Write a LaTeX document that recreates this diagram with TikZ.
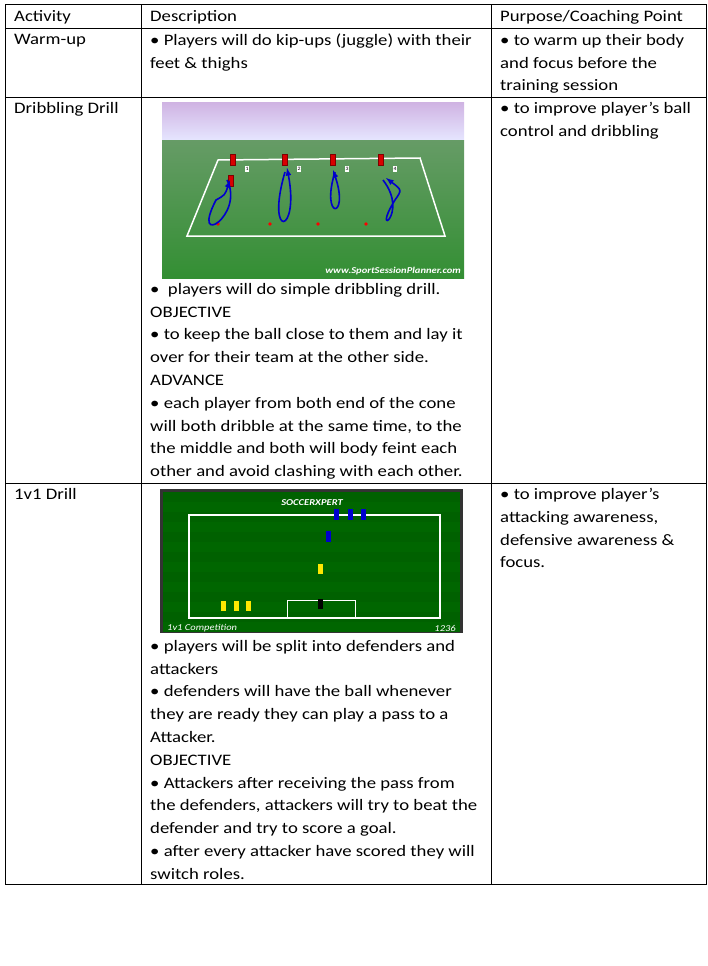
\documentclass[tikz,border=0pt]{standalone}
\usepackage{fontspec}
\setmainfont{Carlito}[FakeStretch=1.17]
\usetikzlibrary{positioning}
\tikzset{cell/.style={anchor=north west,align=left,inner sep=0pt,
  font=\fontsize{16}{22.8}\selectfont},
  rule/.style={line width=1pt},
  redp/.style={fill=red!85!black,draw=red!50!black,minimum width=5,minimum height=11,inner sep=0pt},
  bluep/.style={fill=blue!80!black,minimum width=5,minimum height=11,inner sep=0pt},
  yelp/.style={fill=yellow!90!orange,minimum width=5,minimum height=10,inner sep=0pt},
  path/.style={draw=blue!80!black,line width=1.6pt}}
\begin{document}
\begin{tikzpicture}[x=1pt,y=-1pt]
\useasboundingbox (0,0) rectangle (708,966);
% table frame
\draw[rule] (5,5) rectangle (706,884);
\foreach \y in {29,97,483} \draw[rule] (5,\y) -- (706,\y);
\foreach \x in {141,491} \draw[rule] (\x,5) -- (\x,884);
% header
\node[cell] (hact) at (14,10) {Activity};
\node[cell] (hdesc) at (150,10) {Description};
\node[cell] (hpur) at (500,10) {Purpose/Coaching Point};
% warm-up
\node[cell] (wact) at (14,34) {Warm-up};
\node[cell] (wdesc) at (150,34) {• Players will do kip-ups (juggle) with their\\feet \& thighs};
\node[cell] (wpur) at (500,34) {• to warm up their body\\and focus before the\\training session};
% dribbling
\node[cell] (dact) at (14,102) {Dribbling Drill};
\node[cell] (dpur) at (500,102) {• to improve player’s ball\\control and dribbling};
\shade[top color=blue!25!violet!30,bottom color=blue!10!white] (162,102) rectangle (464,140);
\shade[top color=green!35!black!60,bottom color=green!45!black!80] (162,140) rectangle (464,278);
\draw[white,line width=1.5pt] (218,160) -- (420,158) -- (445,236) -- (187,236) -- cycle;
\foreach \x/\n in {233/1,285/2,333/3,381/4}{
  \node[redp] (p\n) at (\x,160) {};
  \node[fill=white,font=\tiny,inner sep=1pt] (n\n) at (\x+14,169) {\n};
  \node[fill=red,circle,inner sep=1.3pt] (c\n) at (\x-15,224) {};}
\node[redp] (p5) at (231,181) {};
\draw[path,-latex] (227,180) .. controls (245,215) and (190,250) .. (216,200) .. controls (225,195) .. (230,180);
\draw[path,-latex] (285,172) .. controls (265,240) and (300,235) .. (287,168);
\draw[path,-latex] (335,172) .. controls (320,220) and (350,220) .. (333,170);
\draw[path,-latex] (383,180) .. controls (410,215) and (370,240) .. (395,200) .. controls (402,190) .. (386,178);
\node[font=\bfseries\itshape\fontsize{9}{9}\selectfont,text=white,anchor=south east,inner sep=2pt] (wm) at (463,277) {www.SportSessionPlanner.com};
\node[cell] (ddesc) at (150,283) {•\ \ players will do simple dribbling drill.\\OBJECTIVE\\• to keep the ball close to them and lay it\\over for their team at the other side.\\ADVANCE\\• each player from both end of the cone\\will both dribble at the same time, to the\\the middle and both will body feint each\\other and avoid clashing with each other.};
% 1v1
\node[cell] (vact) at (14,488) {1v1 Drill};
\node[cell] (vpur) at (500,488) {• to improve player’s\\attacking awareness,\\defensive awareness \&\\focus.};
\fill[black!80] (160,489) rectangle (463,633);
\foreach \i in {0,...,6} \fill[green!45!black!85!black] (163,492+\i*20) rectangle (460,502+\i*20);
\foreach \i in {0,...,6} \fill[green!40!black] (163,502+\i*20) rectangle (460,512+\i*20);
\draw[white,line width=1.5pt] (189,515) rectangle (440,618);
\draw[white,line width=1pt] (287,600) rectangle (355,618);
\node[font=\itshape\bfseries\fontsize{9}{9}\selectfont,text=white] (logo) at (312,503) {SOCCERXPERT};
\node[font=\itshape\fontsize{9}{9}\selectfont,text=white,anchor=south west,inner sep=1pt] (tit) at (166,633) {1v1 Competition};
\node[font=\itshape\fontsize{9}{9}\selectfont,text=white,anchor=south east,inner sep=1pt] (num) at (457,633) {1236};
\foreach \x in {336,350,363} \node[bluep] at (\x,514) {};
\node[bluep] (att) at (328,536) {};
\node[yelp] (def) at (320,569) {};
\node[fill=black,minimum width=5,minimum height=10,inner sep=0pt] (gk) at (320,604) {};
\foreach \x in {223,236,248} \node[yelp] at (\x,606) {};
\node[cell] (vdesc) at (150,640) {• players will be split into defenders and\\attackers\\• defenders will have the ball whenever\\they are ready they can play a pass to a\\Attacker.\\OBJECTIVE\\• Attackers after receiving the pass from\\the defenders, attackers will try to beat the\\defender and try to score a goal.\\• after every attacker have scored they will\\switch roles.};
\end{tikzpicture}
\end{document}
